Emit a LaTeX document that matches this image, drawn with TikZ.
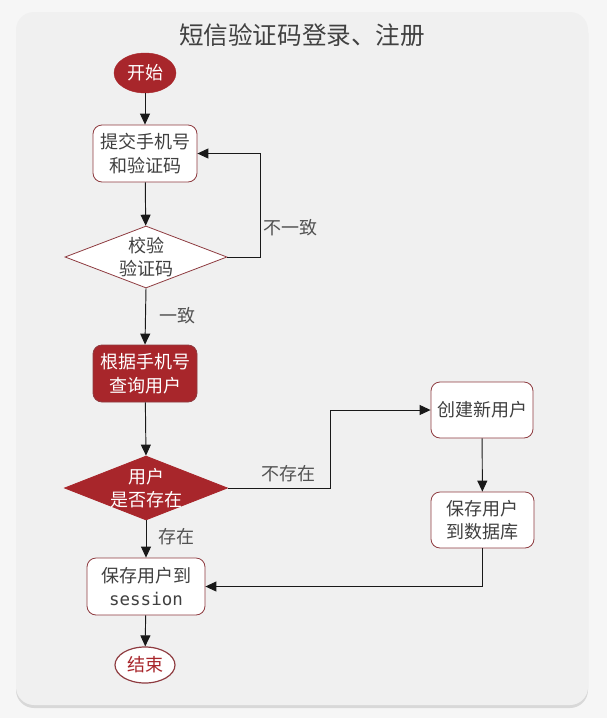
\documentclass[tikz,border=0pt]{standalone}
\usepackage{fontspec}
\setmainfont{Noto Sans CJK SC}
\newfontfamily\cjk{Noto Sans CJK SC}
\setmonofont{DejaVu Sans Mono}
\usetikzlibrary{shapes.geometric,arrows.meta,shadows}
\definecolor{rd}{HTML}{A8262B}
\definecolor{bd}{HTML}{8E3B40}
\definecolor{tx}{HTML}{404040}
\definecolor{bgout}{HTML}{F6F6F6}
\definecolor{card}{HTML}{F0F0F0}
\tikzset{
  base/.style={inner sep=0pt,font=\cjk\fontsize{18}{23.5}\selectfont,align=center,text=tx},
  whitebox/.style={base,rectangle,rounded corners=9pt,draw=bd,line width=0.8pt,fill=white},
  redbox/.style={base,rectangle,rounded corners=9pt,draw=bd,line width=0.8pt,fill=rd,text=white},
  dwhite/.style={diamond,inner sep=0pt,draw=bd,line width=0.8pt,fill=white},
  dred/.style={diamond,inner sep=0pt,draw=rd,line width=0.8pt,fill=rd},
  lbl/.style={base,text=tx!90},
  conn/.style={draw=black!90,line width=0.95pt,-{Triangle[length=11pt,width=10pt]}},
}
\begin{document}
\begin{tikzpicture}[x=1pt,y=-1pt]
\fill[bgout] (0,0) rectangle (607,718);
\useasboundingbox (0,0) rectangle (607,718);
\path[fill=card,rounded corners=18pt,drop shadow={opacity=0.25,shadow xshift=0pt,shadow yshift=-3pt}] (16,12) rectangle (588,705);
\node[base,font=\cjk\fontsize{24.6}{28}\selectfont,text=tx] (title) at (302,35) {短信验证码登录、注册};

\node[ellipse,fill=rd,draw=rd,minimum width=62,minimum height=40,inner sep=0pt,base,text=white] (start) at (145,73) {开始};
\node[whitebox,minimum width=104,minimum height=57] (submit) at (145,153.5) {提交手机号\\和验证码};
\node[dwhite,minimum width=162,minimum height=62] (check) at (146,257) {};
\node[base] (checkt) at (check) {校验\\验证码};
\node[redbox,minimum width=104,minimum height=57] (query) at (145,373.5) {根据手机号\\查询用户};
\node[dred,minimum width=163,minimum height=64] (exist) at (146,488) {};
\node[base,text=white] (existt) at (exist) {用户\\是否存在};
\node[whitebox,minimum width=102,minimum height=56] (create) at (482,410) {创建新用户};
\node[whitebox,minimum width=103,minimum height=56] (savedb) at (482.5,520) {保存用户\\到数据库};
\node[whitebox,minimum width=118,minimum height=57] (sess) at (146,586.5) {保存用户到\\{\ttfamily\fontsize{17.5}{23.5}\selectfont session}};
\node[ellipse,fill=white,draw=bd,line width=1.2pt,minimum width=60,minimum height=36,inner sep=0pt,base,text=rd] (end) at (145,665) {结束};

\coordinate (c1) at (260,257);
\coordinate (c2) at (260,153.5);
\coordinate (c3) at (330,488);
\coordinate (c4) at (330,410);
\coordinate (c5) at (482.5,586.5);

\draw[conn] (start) -- (submit);
\draw[conn] (submit) -- (check);
\draw[conn] (check.east) -- (c1) -- (c2) -- (submit.east);
\node[lbl] (l1) at (290,228) {不一致};
\draw[conn] (check.south) -- (query.north);
\node[lbl] (l2) at (177,316) {一致};
\draw[conn] (query) -- (exist.north);
\draw[conn] (exist.east) -- (c3) -- (c4) -- (create.west);
\node[lbl] (l3) at (288,474) {不存在};
\draw[conn] (create) -- (savedb);
\draw[conn] (savedb.south) -- (c5) -- (sess.east);
\draw[conn] (exist.south) -- (sess.north);
\node[lbl] (l4) at (176,537) {存在};
\draw[conn] (sess) -- (end);
\end{tikzpicture}
\end{document}
